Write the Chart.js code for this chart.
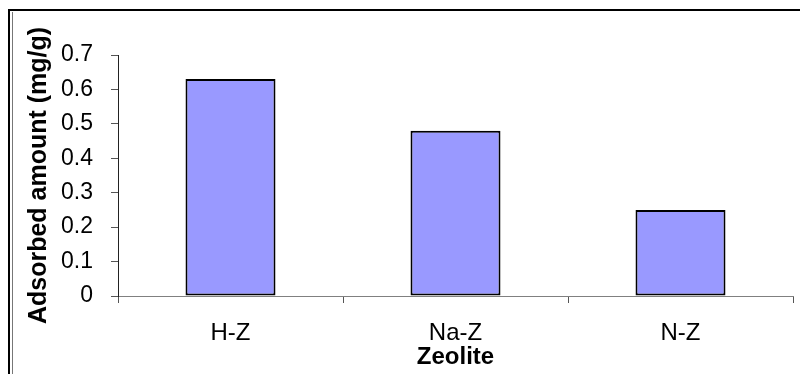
<!DOCTYPE html>
<html>
<head>
<meta charset="utf-8">
<script src="https://cdn.jsdelivr.net/npm/chart.js@4/dist/chart.umd.min.js"></script>
<style>
  html, body { margin: 0; padding: 0; background: #ffffff; }
  #wrap { width: 800px; height: 374px; position: relative; }
</style>
</head>
<body>
<div id="wrap"><canvas id="chart"></canvas></div>
<script>
// Zeolite types and adsorbed amounts (mg/g)
const categories = ['H-Z', 'Na-Z', 'N-Z'];
const adsorbed = [0.63, 0.48, 0.25];
const yTicks = [0, 0.1, 0.2, 0.3, 0.4, 0.5, 0.6, 0.7];

// Frame around the whole figure
const framePlugin = {
  id: 'frame',
  afterDraw(chart) {
    const ctx = chart.ctx;
    ctx.save();
    ctx.strokeStyle = '#000';
    ctx.lineWidth = 2;
    ctx.beginPath();
    ctx.moveTo(9, 374);
    ctx.lineTo(9, 10);
    ctx.lineTo(800, 10);
    ctx.stroke();
    ctx.strokeStyle = '#777';
    ctx.lineWidth = 1;
    ctx.beginPath();
    ctx.moveTo(12.5, 374);
    ctx.lineTo(12.5, 12);
    ctx.stroke();
    ctx.restore();
  }
};

new Chart(document.getElementById('chart'), {
  type: 'bar',
  data: {
    labels: categories,
    datasets: [{
      data: adsorbed,
      backgroundColor: '#9999FF',
      borderColor: '#000000',
      borderWidth: 2,
      borderSkipped: false,
      barPercentage: 0.4,
      categoryPercentage: 1.0
    }]
  },
  options: {
    responsive: true,
    maintainAspectRatio: false,
    animation: false,
    layout: { padding: { top: 55, right: 7, left: 0, bottom: 0 } },
    plugins: { legend: { display: false }, tooltip: { enabled: false } },
    scales: {
      x: {
        offset: true,
        grid: { display: true, offset: true, drawOnChartArea: false, drawTicks: true, tickLength: 7, color: '#555' },
        border: { display: true, color: '#808080', width: 1 },
        ticks: { color: '#000', font: { family: 'Liberation Sans', size: 24 }, padding: 16 },
        title: { display: true, text: 'Zeolite', color: '#000', font: { family: 'Liberation Sans', size: 24, weight: 'bold' }, padding: { top: 0, bottom: 2 } },
        afterFit(s) { s.height = 78; }
      },
      y: {
        min: 0,
        max: 0.7,
        afterBuildTicks(s) { s.ticks = yTicks.map(v => ({ value: v })); },
        grid: { display: true, drawOnChartArea: false, drawTicks: true, tickLength: 7, color: '#555' },
        border: { display: true, color: '#222', width: 1 },
        ticks: { color: '#000', font: { family: 'Liberation Sans', size: 23 }, padding: 18, callback: v => String(v) },
        title: { display: true, text: 'Adsorbed amount (mg/g)', color: '#000', font: { family: 'Liberation Sans', size: 25, weight: 'bold' }, padding: { top: 24, bottom: 0 } },
        afterFit(s) { s.width = 118; }
      }
    }
  },
  plugins: [framePlugin]
});
</script>
</body>
</html>
